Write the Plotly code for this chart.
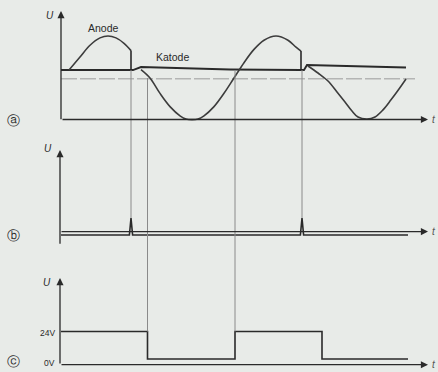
import plotly.graph_objects as go

# ---------------- data ----------------
# time axis: arbitrary units, 0 = origin of the axes
# panel a: anode voltage (normalised, 1 = crest) and cathode voltage
anode1_t = [8, 19, 29, 39, 47, 55, 63, 70]
anode1_u = [0.19, 0.50, 0.78, 0.955, 1.0, 0.955, 0.826, 0.652]
anode2_t = [80, 89, 99, 109, 119, 125, 131, 137, 143, 153, 163, 173, 183, 193, 203, 215, 227, 235, 240]
anode2_u = [0.20, 0.0, -0.367, -0.681, -0.90, -0.976, -0.99, -0.976, -0.90, -0.681, -0.364,
            0.0, 0.364, 0.681, 0.90, 1.0, 0.90, 0.733, 0.64]
anode3_t = [247, 257, 267, 276, 284, 291, 297, 306, 314, 322, 330, 338, 345]
anode3_u = [0.286, 0.119, -0.071, -0.333, -0.571, -0.786, -0.929, -0.976, -0.929, -0.76, -0.52, -0.262, -0.024]
cutoff_t = [70, 240]
cutoff_u = [0.652, 0.64]
cathode_t = [0, 72, 80, 119, 169, 240, 243, 246, 299, 345]
cathode_u = [0.19, 0.19, 0.262, 0.238, 0.202, 0.19, 0.19, 0.31, 0.274, 0.25]
threshold_u = -0.02
threshold_end = 354

# panel b: ignition pulses
pulse_t = [70, 241]
pulse_height = 1.0
pulse_end = 347

# panel c: output voltage (V)
gate_edges = [0, 86.5, 174, 261, 347]
gate_levels = [24, 0, 24, 0]
tick_vals = [24, 0]
tick_text = ["24V", "0V"]

# projection lines between the panels
link_t = [70, 86.5, 174, 241]
link_from = [0.19, 0.0, 0.19, 0.19]          # panel a level
link_to = [("b", 1.0), ("c", 24), ("c", 24), ("b", 1.0)]

labels_text = {"anode": "Anode", "cathode": "Katode"}

# ---------------- layout constants ----------------
W, H = 438, 372
XR = [-61, 377]
RA = [-7.0, 1.857]       # panel a axis range
RB = [-8.059, 13.824]    # panel b axis range
RC = [-11.35, 313.3]     # panel c axis range
BG = "#e8ebe8"
DARK = "#2a2a2a"
CURVE = "#3c3c3c"
THIN = "#8a8a8a"

ranges = {"a": RA, "b": RB, "c": RC}


def to_paper(panel, v):
    lo, hi = ranges[panel]
    return (v - lo) / (hi - lo)


fig = go.Figure()

def line(x, y, yaxis, color=DARK, width=1.6, shape="linear", dash="solid"):
    fig.add_trace(go.Scatter(x=x, y=y, yaxis=yaxis, mode="lines", hoverinfo="skip",
                             line=dict(color=color, width=width, shape=shape, dash=dash)))

# panel a
line([0, threshold_end], [threshold_u, threshold_u], "y", color="#9a9a9a", width=1, dash="16px,3px")
line(cathode_t, cathode_u, "y", color=DARK, width=1.9)
line(anode1_t, anode1_u, "y", color=CURVE, width=1.6, shape="spline")
line(anode2_t, anode2_u, "y", color=CURVE, width=1.6, shape="spline")
line(anode3_t, anode3_u, "y", color=CURVE, width=1.6, shape="spline")
for t, u in zip(cutoff_t, cutoff_u):
    line([t, t], [u, cathode_u[0]], "y", color=DARK, width=1.6)

# panel b
bx, by = [0], [0]
for t in pulse_t:
    bx += [t - 1.6, t, t + 1.6]
    by += [0, pulse_height, 0]
bx.append(pulse_end)
by.append(0)
line(bx, by, "y2", color=DARK, width=1.6)

# panel c
cx, cy = [], []
for i, lvl in enumerate(gate_levels):
    cx += [gate_edges[i], gate_edges[i + 1]]
    cy += [lvl, lvl]
line(cx, cy, "y3", color=DARK, width=1.6)

# projection lines
for t, fa, (p, v) in zip(link_t, link_from, link_to):
    fig.add_shape(type="line", xref="x", yref="paper", x0=t, x1=t,
                  y0=to_paper("a", fa), y1=to_paper(p, v),
                  line=dict(color=THIN, width=1))

ann = []

def arrow(x0, y0, x1, y1, yref):
    ann.append(dict(x=x1, y=y1, ax=x0, ay=y0, xref="x", yref=yref, axref="x", ayref=yref,
                    text="", showarrow=True, arrowhead=2, arrowsize=1.1, arrowwidth=1.3,
                    arrowcolor=DARK, standoff=0, startstandoff=0))

# axes
arrow(0, -1.02, 0, 1.595, "y")
arrow(0, -0.988, 367, -0.988, "y")
arrow(-1, -0.6, -1, 5.0, "y2")
arrow(-1, 0.2, 367, 0.2, "y2")
arrow(-1, -5.24, -1, 70.7, "y3")
arrow(-1, -5.0, 367, -5.0, "y3")

FONT = "Liberation Sans"

def text(s, x, y, xref="x", yref="y", size=10, color=DARK, xanchor="center", yshift=0):
    ann.append(dict(x=x, y=y, xref=xref, yref=yref, text=s, showarrow=False,
                    xanchor=xanchor, yanchor="middle", yshift=yshift,
                    font=dict(family=FONT, size=size, color=color)))

text(labels_text["anode"], 42, 1.19, size=10.5)
text(labels_text["cathode"], 111, 0.5, size=10.5)

# U labels
text("<i>U</i>", -11, 1.48, size=10)
text("<i>U</i>", -13, 5.1, yref="y2", size=10)
text("<i>U</i>", -14, 67, yref="y3", size=10)
# t labels
for yr, v in (("y", -0.988), ("y2", 0.2), ("y3", -5.0)):
    text("<i>t</i>", 373, v, yref=yr, size=10, color="#555")
# level labels
for v, s, ys in zip(tick_vals, tick_text, (-1.5, -4)):
    text(s, -4, v, yref="y3", size=8.5, xanchor="right", yshift=ys)
# circled panel letters
for s, py in (("ⓐ", 121), ("ⓑ", 235), ("ⓒ", 361)):
    ann.append(dict(x=13 / W, y=1 - py / H, xref="paper", yref="paper", text=s, showarrow=False,
                    xanchor="center", yanchor="middle",
                    font=dict(family="DejaVu Sans", size=13, color=DARK)))

ax_common = dict(showgrid=False, zeroline=False, showticklabels=False, showline=False,
                 ticks="", fixedrange=True)
fig.update_layout(
    width=W, height=H, margin=dict(l=0, r=0, t=0, b=0),
    paper_bgcolor=BG, plot_bgcolor=BG, showlegend=False,
    xaxis=dict(range=XR, domain=[0, 1], **ax_common),
    yaxis=dict(range=RA, domain=[0, 1], **ax_common),
    yaxis2=dict(range=RB, overlaying="y", **ax_common),
    yaxis3=dict(range=RC, overlaying="y", **ax_common),
    annotations=ann,
)

fig.write_html(
    "out.html",
    config={"displayModeBar": False, "staticPlot": True},
    post_script="document.body.style.margin='0';document.body.style.overflow='hidden';"
                "document.body.style.background='" + BG + "';",
)
